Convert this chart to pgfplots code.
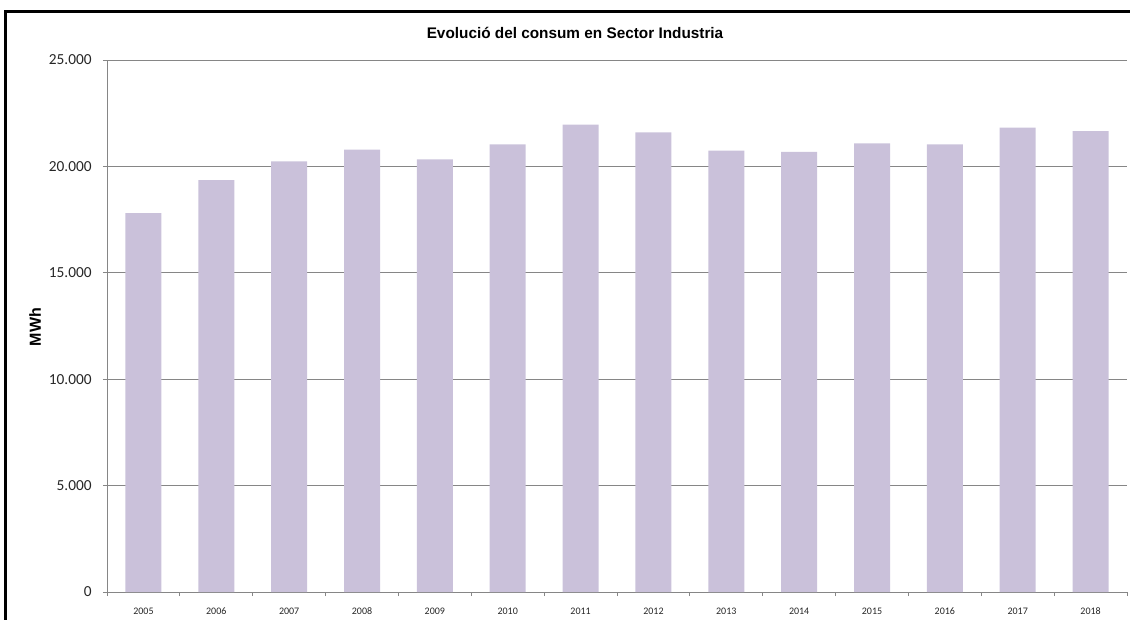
\documentclass[border=0pt]{standalone}
\usepackage{pgfplots}
\pgfplotsset{compat=1.18}
\usepackage{fontspec}
\setmainfont{Liberation Sans}
\newfontfamily\carlito{Carlito}
\definecolor{barc}{RGB}{202,193,218}
\definecolor{gridc}{RGB}{134,134,134}
\begin{document}
\begin{tikzpicture}
\useasboundingbox (0,0) rectangle (847.5pt,464.25pt);
\draw[line width=2.2pt] (4.1pt,-5pt) -- (4.1pt,455.6pt) -- (852pt,455.6pt);
\node[font=\bfseries\fontsize{11.5}{13}\selectfont] at (431.25pt,439.5pt) {Evolució del consum en Sector Industria};
\node[font=\bfseries\fontsize{12}{14}\selectfont, rotate=90] at (26.25pt,219pt) {MWh};
\begin{axis}[
  at={(80.25pt,20.25pt)}, anchor=south west,
  scale only axis, width=765pt, height=399pt,
  xmin=-0.5, xmax=13.5, ymin=0, ymax=25000,
  axis lines*=left,
  axis line style={gridc, line width=0.75pt},
  ytick={0,5000,...,25000},
  scaled y ticks=false,
  ymajorgrids,
  grid style={gridc, line width=0.75pt},
  tick align=outside,
  major tick length=3pt,
  tick style={gridc, line width=0.75pt},
  xtick={-0.5,0.5,...,13.5},
  xticklabels=\empty,
  extra x ticks={0,1,...,13},
  extra x tick labels={2005,2006,2007,2008,2009,2010,2011,2012,2013,2014,2015,2016,2017,2018},
  extra x tick style={tick style={draw=none}},
  xticklabel style={font=\carlito\fontsize{7.5}{9}\selectfont, text=black!85, yshift=-5.5pt},
  yticklabel style={font=\carlito\fontsize{11.5}{13}\selectfont, text=black!85, xshift=-5pt},
  /pgf/number format/.cd, 1000 sep={.}, assume math mode=true,
]
\addplot[ybar, bar width=27pt, fill=barc, draw=none] coordinates {
(0,17810) (1,19360) (2,20240) (3,20790) (4,20330) (5,21040) (6,21960)
(7,21600) (8,20740) (9,20680) (10,21085) (11,21040) (12,21820) (13,21660)
};
\end{axis}
\end{tikzpicture}
\end{document}
